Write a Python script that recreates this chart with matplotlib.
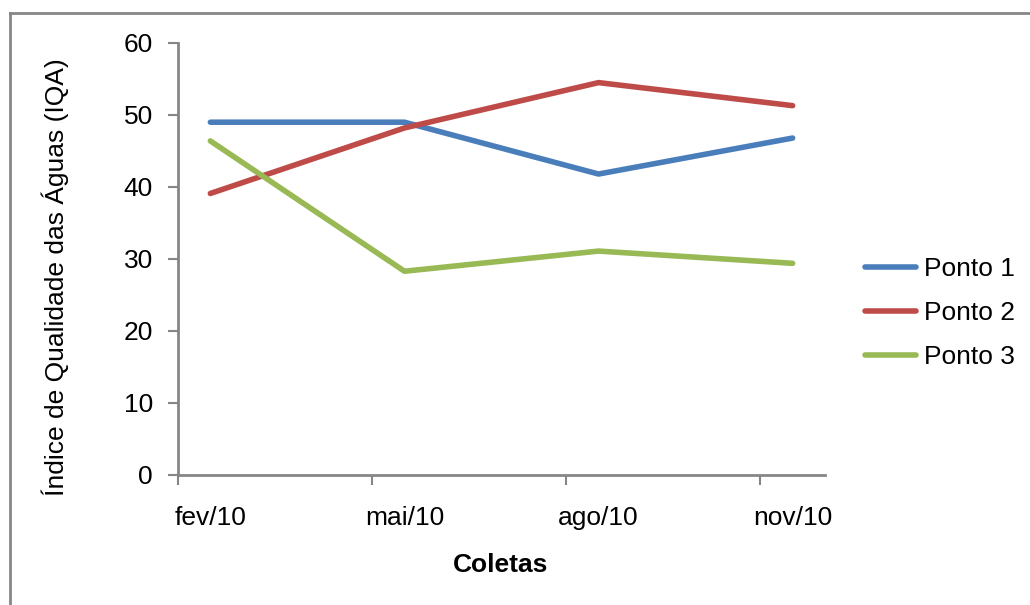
import numpy as np
import matplotlib
matplotlib.use('Agg')
import matplotlib.pyplot as plt
from matplotlib.lines import Line2D

# Coletas trimestrais (eixo de datas em meses, a partir de fev/10)
coletas = ['fev/10', 'mai/10', 'ago/10', 'nov/10']
ponto1 = [49.0, 49.0, 41.8, 46.8]
ponto2 = [39.1, 48.2, 54.5, 51.3]
ponto3 = [46.4, 28.3, 31.1, 29.4]
series = ['Ponto 1', 'Ponto 2', 'Ponto 3']
cores = ['#4A7EBB', '#BE4B48', '#98B954']

plt.rcParams['font.family'] = ['Liberation Sans', 'DejaVu Sans']
FONTE = 19


def main():
    fig = plt.figure(figsize=(10.3, 6.05), dpi=100)
    ax = fig.add_axes([178 / 1030, 1 - 475 / 605, (825 - 178) / 1030, (475 - 43) / 605])

    # cada coleta fica no meio do mes; ticks no inicio de cada trimestre
    meses = np.arange(len(coletas)) * 3
    x = meses + 0.5
    for dados, nome, cor in zip([ponto1, ponto2, ponto3], series, cores):
        ax.plot(x, dados, color=cor, linewidth=4, solid_capstyle='round',
                solid_joinstyle='round', label=nome)

    cinza = '#868686'
    ax.set_xlim(0, 10)
    ax.set_ylim(0, 60)
    ax.set_yticks(range(0, 61, 10))
    ax.set_xticks(meses)
    ax.set_xticklabels([])
    ax.set_xticks(x, minor=True)
    ax.set_xticklabels(coletas, minor=True)
    ax.tick_params(axis='x', which='major', length=7, width=1.5, color=cinza, direction='out')
    ax.tick_params(axis='x', which='minor', length=0, pad=22, labelsize=FONTE)
    ax.tick_params(axis='y', length=7, width=1.5, color=cinza, labelsize=FONTE, pad=11)
    for lado in ['top', 'right']:
        ax.spines[lado].set_visible(False)
    for lado in ['left', 'bottom']:
        ax.spines[lado].set_color(cinza)
        ax.spines[lado].set_linewidth(2)

    fig.text(55 / 1030, 1 - 277 / 605, 'Índice de Qualidade das Águas (IQA)',
             rotation=90, ha='center', va='center', fontsize=FONTE)
    fig.text(501 / 1030, 1 - 565 / 605, 'Coletas', ha='center', va='center',
             fontsize=FONTE, fontweight='bold')

    ax.legend(loc='center left', bbox_to_anchor=(865 / 1030, 1 - 313 / 605),
              bbox_transform=fig.transFigure, frameon=False, fontsize=FONTE,
              handlelength=1.95, handletextpad=0.3, labelspacing=0.75,
              borderpad=0, borderaxespad=0)

    # moldura da area do grafico
    fig.add_artist(Line2D([10 / 1030, 10 / 1030], [0, 1 - 13 / 605], color=cinza,
                          linewidth=2, transform=fig.transFigure))
    fig.add_artist(Line2D([10 / 1030, 1], [1 - 13 / 605, 1 - 13 / 605], color=cinza,
                          linewidth=2, transform=fig.transFigure))

    fig.savefig('out.png', dpi=100)


if __name__ == "__main__":
    main()
